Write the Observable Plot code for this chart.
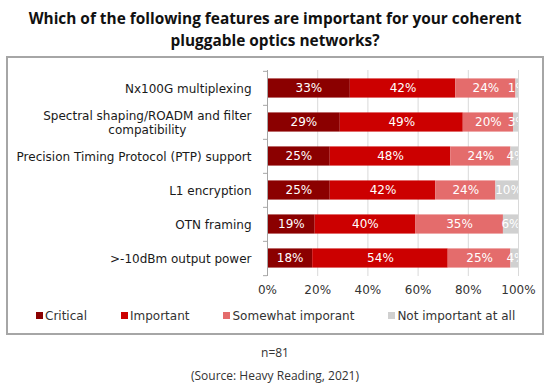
<!DOCTYPE html>
<html><head><meta charset="utf-8">
<script src="https://cdn.jsdelivr.net/npm/d3@7"></script>
<script src="https://cdn.jsdelivr.net/npm/@observablehq/plot@0.6"></script>
<style>
body{margin:0;background:#fff;}
#wrap{position:relative;width:550px;height:389px;overflow:hidden;background:#fff;}
#title{position:absolute;left:0;top:8px;width:550px;text-align:center;font-family:"Open Sans",sans-serif;font-weight:bold;font-size:15.4px;line-height:22px;color:#111;}
#chart{position:absolute;left:0;top:58px;}
#box{position:absolute;left:6px;top:56px;width:534px;height:275px;border:2px solid #a6a6a6;}
#legend{position:absolute;left:36px;top:309px;display:flex;gap:34px;font-family:"DejaVu Sans",sans-serif;font-size:12px;line-height:14px;color:#333;}
#legend span.sw{display:inline-block;width:7px;height:7px;margin-right:2px;vertical-align:1px;}
.foot{position:absolute;left:0;width:550px;text-align:center;font-family:"Open Sans",sans-serif;font-size:12px;line-height:16px;color:#333;}
</style></head>
<body>
<div id="wrap">
  <div id="title">Which of the following features are important for your coherent<br>pluggable optics networks?</div>
  <div id="chart"></div>
  <div id="box"></div>
  <div id="legend"></div>
  <div class="foot" style="top:345px">n=81</div>
  <div class="foot" style="top:368px">(Source: Heavy Reading, 2021)</div>
</div>
<script>
const categories = [
  "Nx100G multiplexing",
  "Spectral shaping/ROADM and filter compatibility",
  "Precision Timing Protocol (PTP) support",
  "L1 encryption",
  "OTN framing",
  ">-10dBm output power"
];
const categoryLabels = [
  "Nx100G multiplexing",
  "Spectral shaping/ROADM and filter\ncompatibility",
  "Precision Timing Protocol (PTP) support",
  "L1 encryption",
  "OTN framing",
  ">-10dBm output power"
];
const seriesNames = ["Critical", "Important", "Somewhat imporant", "Not important at all"];
const critical = [33, 29, 25, 25, 19, 18];
const important = [42, 49, 48, 42, 40, 54];
const somewhat = [24, 20, 24, 24, 35, 25];
const notImportant = [1, 3, 4, 10, 6, 4];
const seriesColors = ["#8b0000", "#cc0000", "#e46c6c", "#d0d0d0"];
const xTicks = [0, 20, 40, 60, 80, 100];

const seriesValues = [critical, important, somewhat, notImportant];
const rows = [];
categories.forEach((c, i) => seriesNames.forEach((s, j) => rows.push({category: c, series: s, value: seriesValues[j][i]})));

const W = 550, H = 240, mT = 12, mB = 22, mL = 267, mR = 32;
const step = (H - mT - mB) / categories.length;
const barH = 19.5;
const inset = (step - barH) / 2;
const axisGray = "#a6a6a6";
const labelFont = '12px "DejaVu Sans"';
const labelGap = 16;

// measure label block widths so multi-line labels are centred as a block, right-aligned to the axis
const ctx = document.createElement("canvas").getContext("2d");
ctx.font = labelFont;
const blockWidths = categoryLabels.map(l => Math.max(...l.split("\n").map(s => ctx.measureText(s).width)));

const labelMarks = categories.map((c, i) =>
  Plot.text([c], {y: d => d, x: 0, dx: -labelGap - blockWidths[i] / 2, text: () => categoryLabels[i],
    textAnchor: "middle", lineHeight: 1.17, fontSize: 12, fill: "#1a1a1a"})
);

const chart = Plot.plot({
  width: W, height: H,
  marginTop: mT, marginBottom: mB, marginLeft: mL, marginRight: mR,
  style: {fontFamily: '"DejaVu Sans", Verdana, sans-serif', fontSize: "12px", background: "transparent", color: "#333"},
  x: {domain: [0, 100], label: null},
  y: {domain: categories, padding: 0, label: null, axis: null},
  color: {domain: seriesNames, range: seriesColors},
  marks: [
    Plot.ruleX(xTicks.slice(1), {stroke: "#d9d9d9"}),
    Plot.barX(rows, Plot.stackX({x: "value", y: "category", z: "series", fill: "series", insetTop: inset, insetBottom: inset, clip: true})),
    Plot.text(rows, Plot.stackX({x: "value", y: "category", z: "series", text: d => d.value + "%", fill: "white", fontSize: 12, clip: true})),
    Plot.ruleX([0], {stroke: axisGray}),
    Plot.ruleY(categories, {y: d => d, x1: 0, x2: 0, insetLeft: -4, dy: -step / 2, stroke: axisGray}),
    Plot.ruleY([categories[categories.length - 1]], {y: d => d, x1: 0, x2: 0, insetLeft: -4, dy: step / 2, stroke: axisGray}),
    Plot.axisX({ticks: xTicks, tickFormat: d => d + "%", tickSize: 0, tickPadding: 9, fontSize: 12, fill: "#333", label: null}),
    ...labelMarks
  ]
});
document.getElementById("chart").appendChild(chart);

const legend = document.getElementById("legend");
seriesNames.forEach((s, j) => {
  const item = document.createElement("div");
  const sw = document.createElement("span");
  sw.className = "sw";
  sw.style.background = seriesColors[j];
  item.appendChild(sw);
  item.appendChild(document.createTextNode(s));
  legend.appendChild(item);
});
</script>
</body></html>
